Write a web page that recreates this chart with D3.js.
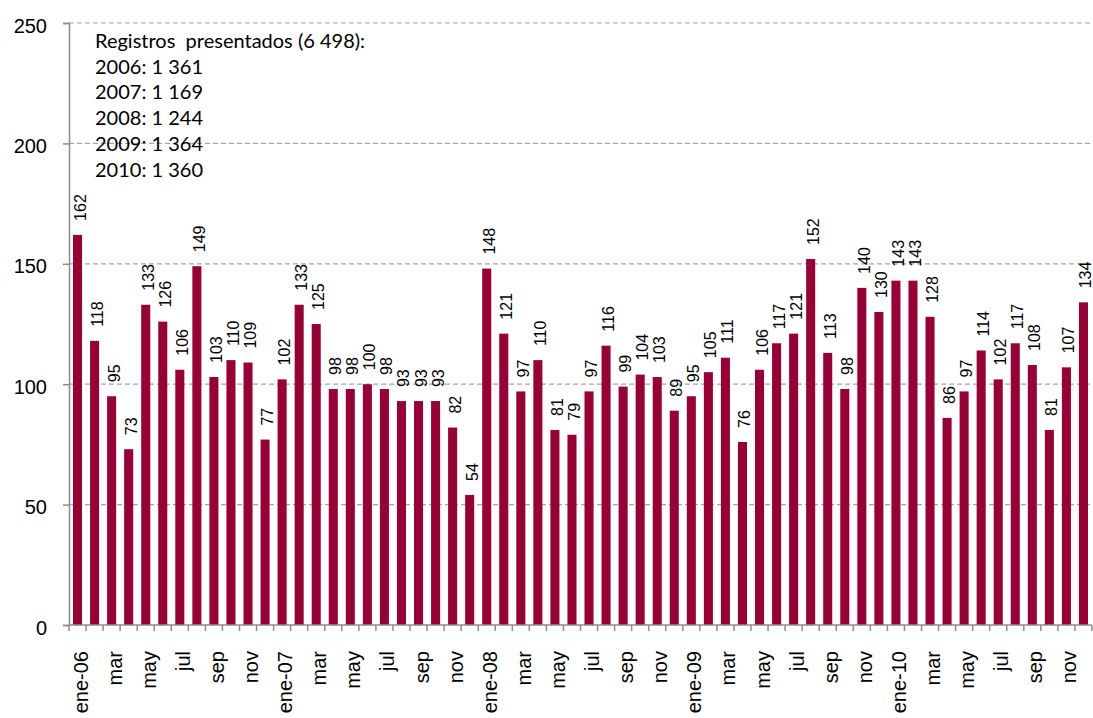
<!DOCTYPE html>
<html>
<head>
<meta charset="utf-8">
<script src="https://cdn.jsdelivr.net/npm/d3@7"></script>
<style>
  body { margin: 0; background: #fff; }
  svg { display: block; }
</style>
</head>
<body>
<script>
// monthly values 2006-2010
var years = ["06", "07", "08", "09", "10"];
var months = ["ene", "feb", "mar", "abr", "may", "jun", "jul", "ago", "sep", "oct", "nov", "dic"];
var values = [
  162, 118, 95, 73, 133, 126, 106, 149, 103, 110, 109, 77,
  102, 133, 125, 98, 98, 100, 98, 93, 93, 93, 82, 54,
  148, 121, 97, 110, 81, 79, 97, 116, 99, 104, 103, 89,
  95, 105, 111, 76, 106, 117, 121, 152, 113, 98, 140, 130,
  143, 143, 128, 86, 97, 114, 102, 117, 108, 81, 107, 134
];
var yTicks = [0, 50, 100, 150, 200, 250];
var notes = [
  "Registros  presentados (6 498):",
  "2006: 1 361",
  "2007: 1 169",
  "2008: 1 244",
  "2009: 1 364",
  "2010: 1 360"
];

var cats = [];
years.forEach(function(yy) {
  months.forEach(function(m) { cats.push(m + "-" + yy); });
});

var width = 1093, height = 718,
    plotLeft = 69, plotRight = 1092, plotTop = 23, plotBottom = 625;
var arial = "'Liberation Sans', Arial, sans-serif";

var svg = d3.select("body").append("svg")
  .attr("width", width)
  .attr("height", height);

var x = d3.scaleBand()
  .domain(cats)
  .range([plotLeft, plotRight])
  .paddingInner(0.47)
  .paddingOuter(0.235);

var y = d3.scaleLinear()
  .domain([0, 250])
  .range([plotBottom, plotTop]);

// gridlines
svg.append("g")
  .selectAll("line")
  .data(yTicks.filter(function(d) { return d > 0; }))
  .enter().append("line")
  .attr("x1", plotLeft)
  .attr("x2", plotRight)
  .attr("y1", function(d) { return y(d); })
  .attr("y2", function(d) { return y(d); })
  .attr("stroke", "#a6a6a6")
  .attr("stroke-width", 1.2)
  .attr("stroke-dasharray", "5,3");

// bars
svg.append("g")
  .selectAll("rect")
  .data(values)
  .enter().append("rect")
  .attr("x", function(d, i) { return x(cats[i]); })
  .attr("y", function(d) { return y(d); })
  .attr("width", x.bandwidth())
  .attr("height", function(d) { return plotBottom - y(d); })
  .attr("fill", "#990033");

// value labels
svg.append("g")
  .selectAll("text")
  .data(values)
  .enter().append("text")
  .attr("transform", function(d, i) {
    return "translate(" + (x(cats[i]) + x.bandwidth() / 2) + "," + (y(d) - 14) + ") rotate(-90)";
  })
  .attr("dy", "0.5em")
  .attr("text-anchor", "start")
  .style("font-family", arial)
  .style("font-size", "16px")
  .style("fill", "#000")
  .text(String);

// y axis
var yAxis = svg.append("g")
  .attr("transform", "translate(" + plotLeft + ",0)")
  .call(d3.axisLeft(y).tickValues(yTicks).tickSize(6).tickPadding(16));
yAxis.select(".domain").attr("stroke", "#8c8c8c").attr("stroke-width", 1.5);
yAxis.selectAll(".tick line").attr("stroke", "#8c8c8c").attr("stroke-width", 1.5);
yAxis.selectAll(".tick text")
  .attr("dy", "0.45em")
  .style("font-family", arial)
  .style("font-size", "20px")
  .style("fill", "#000");

// x axis line and boundary ticks
var step = x.step(), gap = (step - x.bandwidth()) / 2;
svg.append("line")
  .attr("x1", plotLeft).attr("x2", plotRight)
  .attr("y1", plotBottom).attr("y2", plotBottom)
  .attr("stroke", "#8c8c8c").attr("stroke-width", 1.5);
svg.append("g")
  .selectAll("line")
  .data(cats.concat(["end"]))
  .enter().append("line")
  .attr("x1", function(d, i) { return i < cats.length ? x(d) - gap : plotRight; })
  .attr("x2", function(d, i) { return i < cats.length ? x(d) - gap : plotRight; })
  .attr("y1", plotBottom)
  .attr("y2", plotBottom + 6)
  .attr("stroke", "#8c8c8c").attr("stroke-width", 1.5);

// x tick labels, every other month
var xAxis = svg.append("g")
  .attr("transform", "translate(0," + plotBottom + ")")
  .call(d3.axisBottom(x)
    .tickValues(cats.filter(function(d, i) { return i % 2 === 0; }))
    .tickSize(0)
    .tickFormat(function(d) {
      var i = cats.indexOf(d);
      return i % 12 === 0 ? d : months[i % 12];
    }));
xAxis.select(".domain").remove();
xAxis.selectAll(".tick text")
  .attr("transform", "translate(0,26) rotate(-90)")
  .attr("x", 0)
  .attr("y", 0)
  .attr("dy", "0.5em")
  .attr("text-anchor", "end")
  .style("font-family", arial)
  .style("font-size", "20px")
  .style("fill", "#000");

// note box
svg.append("g")
  .selectAll("text")
  .data(notes)
  .enter().append("text")
  .attr("x", 95)
  .attr("y", function(d, i) { return 48 + i * 25.7; })
  .attr("xml:space", "preserve")
  .style("white-space", "pre")
  .style("font-family", "Lato, sans-serif")
  .style("font-size", "20px")
  .style("fill", "#000")
  .text(String);
</script>
</body>
</html>
